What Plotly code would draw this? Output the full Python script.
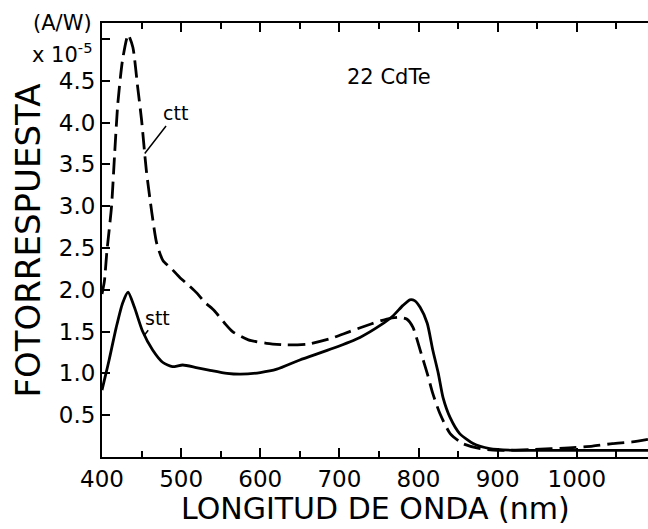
import plotly.graph_objects as go

# ---- data ----
ctt_nm = [400, 403, 406, 412, 416, 420, 426, 433, 439, 445, 450, 456, 463, 469, 477, 488,
          498, 510, 520, 530, 542, 555, 565, 585, 608, 633, 660, 690, 713, 740, 760, 775,
          785, 793, 802, 811, 818, 827, 840, 856, 878, 900, 945, 990, 1020, 1045, 1070, 1090]
ctt_val = [1.95, 2.10, 2.44, 2.99, 3.63, 4.23, 4.75, 5.05, 4.90, 4.43, 4.03, 3.43, 2.92, 2.56, 2.35, 2.25,
           2.15, 2.05, 1.96, 1.85, 1.75, 1.60, 1.50, 1.40, 1.36, 1.34, 1.35, 1.42, 1.50, 1.59, 1.65, 1.67,
           1.65, 1.55, 1.28, 1.00, 0.76, 0.52, 0.28, 0.16, 0.10, 0.08, 0.09, 0.11, 0.13, 0.16, 0.18, 0.21]

stt_nm = [400, 405, 409, 418, 426, 433, 441, 451, 464, 477, 489, 502, 519, 535, 558, 575, 600,
          621, 650, 692, 726, 751, 768, 780, 789, 795, 802, 811, 818, 825, 831, 840, 852, 869,
          890, 920, 960, 1000, 1050, 1090]
stt_val = [0.80, 1.00, 1.16, 1.55, 1.84, 1.97, 1.79, 1.51, 1.28, 1.13, 1.08, 1.10, 1.07, 1.04, 1.00, 0.99, 1.01,
           1.05, 1.16, 1.30, 1.43, 1.57, 1.69, 1.81, 1.88, 1.87, 1.79, 1.60, 1.28, 1.00, 0.71, 0.47, 0.28, 0.16,
           0.10, 0.08, 0.08, 0.08, 0.08, 0.08]

y_tickvals = [0.5, 1.0, 1.5, 2.0, 2.5, 3.0, 3.5, 4.0, 4.5, 5.0]
y_ticktext = ["0.5", "1.0", "1.5", "2.0", "2.5", "3.0", "3.5", "4.0", "4.5", " "]
x_tickvals = [400, 500, 600, 700, 800, 900, 1000]
x_ticktext = ["400", "500", "600", "700", "800", "900", "1000"]

FONT = "DejaVu Sans, Arial, sans-serif"

fig = go.Figure()
fig.add_trace(go.Scatter(x=ctt_nm, y=ctt_val, mode="lines", name="ctt",
                         line=dict(color="black", width=2.8, dash="17px,7px", shape="spline", smoothing=0.6)))
fig.add_trace(go.Scatter(x=stt_nm, y=stt_val, mode="lines", name="stt",
                         line=dict(color="black", width=2.8, shape="spline", smoothing=0.6)))

fig.update_layout(
    width=648, height=529,
    margin=dict(l=102, r=0, t=23, b=72),
    paper_bgcolor="white", plot_bgcolor="white",
    showlegend=False,
    font=dict(family=FONT, color="black"),
    xaxis=dict(range=[400, 1090], tickvals=x_tickvals, ticktext=x_ticktext,
               ticks="inside", ticklen=9, tickwidth=1.5, tickcolor="black",
               minor=dict(dtick=50, tick0=400, ticks="inside", ticklen=6, tickwidth=1.5, tickcolor="black"),
               showline=True, linecolor="black", linewidth=2, mirror="allticks",
               showgrid=False, zeroline=False,
               tickfont=dict(family=FONT, size=23, color="black")),
    yaxis=dict(range=[0, 5.19], tickvals=y_tickvals, ticktext=y_ticktext,
               ticks="inside", ticklen=8, tickwidth=1.5, tickcolor="black",
               showline=True, linecolor="black", linewidth=2, mirror=False,
               showgrid=False, zeroline=False,
               tickfont=dict(family=FONT, size=23, color="black")),
    yaxis2=dict(range=[0, 5.19], tickvals=y_tickvals, overlaying="y", side="right",
                ticks="inside", ticklen=5, tickwidth=1.5, tickcolor="black",
                showticklabels=False, showline=False, showgrid=False, zeroline=False),
)

annotations = [
    dict(text="FOTORRESPUESTA", xref="paper", yref="paper", x=-0.136, y=0.498,
         xanchor="center", yanchor="middle",
         textangle=-90, showarrow=False, font=dict(family=FONT, size=34, color="black")),
    dict(text="LONGITUD DE ONDA (nm)", xref="paper", yref="paper", x=0.5, y=-0.1195,
         xanchor="center", yanchor="middle", showarrow=False, borderpad=0,
         font=dict(family=FONT, size=30, color="black")),
    dict(text="(A/W)", xref="paper", yref="paper", x=-0.073, y=1.0, yanchor="middle",
         xanchor="center", showarrow=False, font=dict(family=FONT, size=21, color="black")),
    dict(text="x 10<sup>-5</sup>", xref="paper", yref="paper", x=-0.073, y=0.931,
         xanchor="center", yanchor="middle", showarrow=False,
         font=dict(family=FONT, size=21, color="black")),
    dict(text="22 CdTe", x=763, y=4.54, showarrow=False,
         font=dict(family=FONT, size=21, color="black")),
    dict(text="ctt", x=454, y=3.63, ax=31, ay=-40, showarrow=True, arrowhead=0,
         arrowwidth=1.5, arrowcolor="black", font=dict(family=FONT, size=19, color="black")),
    dict(text="stt", x=453, y=1.45, ax=14, ay=-18, showarrow=True, arrowhead=0,
         arrowwidth=1.5, arrowcolor="black", font=dict(family=FONT, size=19, color="black")),
]
fig.update_layout(annotations=annotations)

fig.write_html("out.html")
